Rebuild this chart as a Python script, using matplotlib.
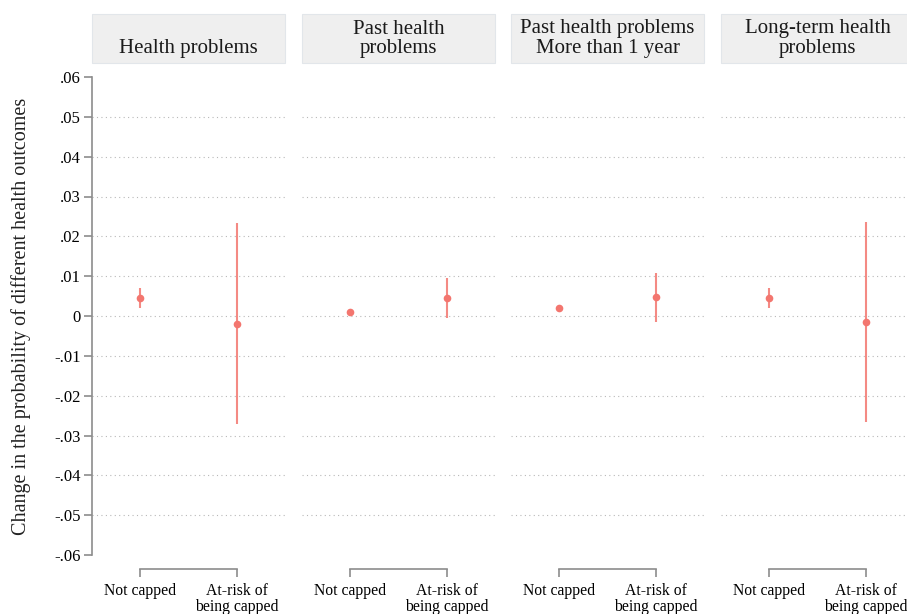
import matplotlib.pyplot as plt
from matplotlib.patches import Rectangle
from matplotlib.ticker import FixedLocator, FuncFormatter

plt.rcParams['font.family'] = ['Liberation Serif', 'DejaVu Serif']

panels = ["Health problems", "Past health\nproblems",
          "Past health problems\nMore than 1 year", "Long-term health\nproblems"]
groups = ["Not capped", "At-risk of\nbeing capped"]

# point estimates and 95% intervals, [not capped, at-risk]
est = [[0.0045, -0.0021], [0.0011, 0.0045], [0.0019, 0.0048], [0.0045, -0.0015]]
lo = [[0.0019, -0.0271], [0.0011, -0.0004], [0.0019, -0.0014], [0.0019, -0.0267]]
hi = [[0.0070, 0.0234], [0.0011, 0.0095], [0.0019, 0.0109], [0.0070, 0.0236]]

red = '#f3766f'
W, H = 907, 614
fig = plt.figure(figsize=(W / 100, H / 100), dpi=100)

lefts = [92, 302, 511, 721]
pw = 193
top_px, bot_px = 77, 555
yticks = [round(-0.06 + 0.01 * i, 2) for i in range(13)]


def fmt(v, pos):
    if abs(v) < 1e-9:
        return '0'
    s = '%.2f' % v
    return s.replace('0.', '.')


for i, name in enumerate(panels):
    ax = fig.add_axes([lefts[i] / W, 1 - bot_px / H, pw / W, (bot_px - top_px) / H])
    x = [1, 2]
    for j in range(2):
        ax.plot([x[j], x[j]], [lo[i][j], hi[i][j]], color=red, lw=1.5,
                alpha=0.85, solid_capstyle='butt', zorder=3)
        ax.plot(x[j], est[i][j], 'o', color=red, ms=5.5, mec='none', zorder=4)
    ax.set_xlim(0.5, 2.5)
    ax.set_ylim(-0.06, 0.06)
    for yv in yticks[1:-1]:
        ax.axhline(yv, color='#b8b8b8', lw=0.8, ls=(0, (1, 3)), zorder=1)

    for s in ['top', 'right']:
        ax.spines[s].set_visible(False)
    ax.spines['bottom'].set_bounds(1, 2)
    ax.spines['bottom'].set_position(('outward', 10))
    ax.spines['bottom'].set_color('#8c8c8c')
    ax.spines['bottom'].set_linewidth(1.2)
    ax.set_xticks(x)
    ax.set_xticklabels(groups, fontsize=11.3, linespacing=0.98)
    ax.tick_params(axis='x', length=6, width=1.2, color='#8c8c8c', pad=4)

    if i == 0:
        ax.spines['left'].set_color('#8c8c8c')
        ax.spines['left'].set_linewidth(1.2)
        ax.yaxis.set_major_locator(FixedLocator(yticks))
        ax.yaxis.set_major_formatter(FuncFormatter(fmt))
        ax.tick_params(axis='y', length=6, width=1.2, color='#8c8c8c',
                       labelsize=12, pad=2)
        ax.set_ylabel('Change in the probability of different health outcomes',
                      fontsize=14.5, labelpad=17, color='#222222')
    else:
        ax.spines['left'].set_visible(False)
        ax.set_yticks([])

    h = bot_px - top_px
    y0 = (bot_px - 63) / h
    y1 = (bot_px - 14) / h
    ax.add_patch(Rectangle((0, y0), 1, y1 - y0, transform=ax.transAxes,
                           facecolor='#efefef', edgecolor='#e2e6ea', lw=0.8,
                           clip_on=False))
    ty = (y0 + y1) / 2 if '\n' in name else y0 + 0.3 * (y1 - y0)
    ax.text(0.5, ty, name, transform=ax.transAxes, ha='center', va='center',
            fontsize=15, linespacing=1.0, color='#1a1a1a')

fig.savefig('out.png', dpi=100)
